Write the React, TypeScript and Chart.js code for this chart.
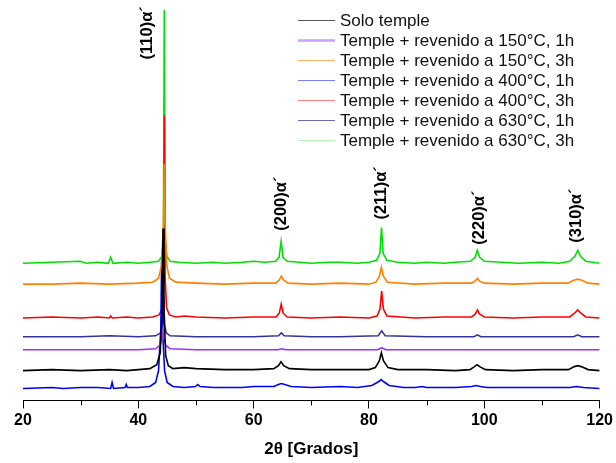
import React, { useEffect, useRef } from "react";
import { Chart, registerables } from "chart.js";

Chart.register(...registerables);

// ---- Data (2θ, intensity above each trace's own baseline) ----
const seriesNames = [
  "Solo temple",
  "Temple + revenido a 150°C, 1h",
  "Temple + revenido a 150°C, 3h",
  "Temple + revenido a 400°C, 1h",
  "Temple + revenido a 400°C, 3h",
  "Temple + revenido a 630°C, 1h",
  "Temple + revenido a 630°C, 3h",
];

// vertical offsets used to stack the patterns
const offsets = [30, 51, 117, 12, 83, 64, 138];

const soloTemple: number[][] = [
  [20, 0], [25, 1], [30, 0], [35, 1], [38, 0], [40, 1], [42, 2], [43.2, 6], [43.8, 18], [44.1, 60],
  [44.28, 143], [44.45, 60], [44.75, 15], [45.2, 5], [46, 2], [48, 3], [50, 2], [55, 1], [60, 1],
  [63.5, 2], [64.3, 5], [64.75, 9], [65.2, 5], [66.2, 2], [70, 1], [75, 1], [80, 1], [81.1, 3],
  [81.8, 10], [82.15, 18], [82.5, 10], [83.3, 3], [85, 1], [90, 1], [95, 0], [97.5, 1], [98.3, 4],
  [98.75, 6], [99.2, 4], [100.2, 1], [105, 0], [110, 1], [114.6, 1], [115.6, 4], [116.2, 5],
  [116.8, 4], [118, 1], [120, 0],
];

const rev150_1h: number[][] = [
  [20, 0], [30, 0], [40, 0], [43, 1], [43.8, 5], [44.1, 13], [44.25, 20], [44.4, 12], [44.8, 4],
  [45.5, 1], [50, 0], [60, 0], [64.2, 0], [64.9, 1], [65.6, 0], [75, 0], [81.5, 0], [82.2, 2],
  [82.9, 0], [90, 0], [100, 0], [110, 0], [120, 0],
];

const rev150_3h: number[][] = [
  [20, 0], [25, 0], [30, 1], [35, 0], [40, 1], [42.5, 2], [43.5, 6], [44.0, 18], [44.35, 60],
  [44.5, 121], [44.65, 60], [44.95, 18], [45.4, 6], [46.5, 2], [50, 1], [55, 0], [60, 1], [63.8, 1],
  [64.4, 4], [64.8, 8], [65.2, 4], [66, 1], [70, 0], [75, 1], [80, 0], [81.2, 2], [81.8, 8],
  [82.15, 17], [82.5, 8], [83.2, 2], [88, 0], [93, 1], [97.8, 1], [98.4, 3], [98.8, 6], [99.2, 3],
  [100, 1], [105, 0], [110, 1], [114.5, 1], [115.5, 4], [116.2, 5], [116.9, 4], [118, 1], [120, 0],
];

const rev400_1h: number[][] = [
  [20, 0], [25, 1], [27, 0], [30, 1], [33, 1], [35.2, 0], [35.45, 6], [35.7, 0], [37.7, 1],
  [37.9, 4], [38.1, 1], [40, 1], [42, 2], [43.0, 6], [43.5, 18], [43.9, 60], [44.05, 131],
  [44.2, 60], [44.55, 18], [45.0, 6], [46, 2], [48, 1], [49.9, 2], [50.3, 4], [50.7, 2], [53, 1],
  [58, 1], [60, 2], [63.5, 2], [64.3, 4], [64.8, 5], [65.4, 4], [66.5, 2], [70, 1], [75, 2],
  [78, 1], [80.5, 3], [81.7, 7], [82.1, 9], [82.5, 7], [83.5, 3], [86, 1], [88, 1], [89.2, 2],
  [90, 1], [95, 1], [97.8, 2], [98.6, 3], [99.3, 2], [100.5, 1], [105, 1], [110, 1], [114.8, 1],
  [116.0, 2], [117.2, 1], [120, 0],
];

const rev400_3h: number[][] = [
  [20, 0], [25, 1], [30, 0], [33, 1], [35.0, 0], [35.2, 2], [35.5, 0], [38, 1], [40, 0], [42.5, 1],
  [43.6, 3], [44.15, 10], [44.4, 40], [44.52, 204], [44.65, 40], [44.9, 10], [45.4, 3], [46.5, 1],
  [48, 2], [50, 1], [55, 0], [60, 1], [63.9, 1], [64.45, 5], [64.78, 14], [65.1, 5], [65.8, 1],
  [70, 0], [75, 1], [80, 0], [81.4, 2], [81.9, 9], [82.2, 27], [82.5, 9], [83.1, 2], [88, 0],
  [93, 1], [97.8, 1], [98.45, 4], [98.8, 8], [99.15, 4], [100, 1], [105, 0], [110, 1], [114.8, 1],
  [115.7, 5], [116.2, 8], [116.7, 5], [117.6, 1], [120, 0],
];

const rev630_1h: number[][] = [
  [20, 0], [30, 0], [35, 1], [40, 0], [43, 1], [43.9, 4], [44.25, 12], [44.4, 41], [44.55, 12],
  [44.85, 4], [45.5, 1], [50, 0], [55, 0], [60, 0], [64.3, 1], [64.8, 4], [65.3, 1], [70, 0],
  [75, 0], [81.6, 1], [82.2, 6], [82.8, 1], [90, 0], [98.2, 0], [98.8, 2], [99.4, 0], [105, 0],
  [110, 0], [115.5, 0], [116.2, 2], [116.9, 0], [120, 0],
];

const rev630_3h: number[][] = [
  [20, 0], [25, 1], [29.9, 2], [31, 0], [33, 1], [34.8, 0], [35.2, 6], [35.6, 0], [38, 1], [40, 0],
  [42, 1], [43.5, 2], [44.05, 7], [44.35, 22], [44.5, 255], [44.65, 22], [44.95, 7], [45.5, 2],
  [47, 1], [50, 0], [53, 1], [55, 0], [58, 1], [60, 2], [62, 1], [63.8, 2], [64.4, 6], [64.76, 22],
  [65.1, 6], [65.8, 2], [68, 1], [70, 0], [73, 1], [75, 1], [78, 0], [80, 1], [81.3, 3], [81.9, 10],
  [82.17, 36], [82.45, 10], [83.1, 3], [85, 1], [88, 0], [90, 1], [93, 0], [95, 1], [97.6, 2],
  [98.4, 6], [98.78, 13], [99.2, 6], [100, 2], [103, 1], [106, 0], [110, 1], [113, 0], [114.8, 2],
  [115.7, 7], [116.2, 13], [116.7, 7], [117.6, 2], [120, 0],
];

const seriesData = [soloTemple, rev150_1h, rev150_3h, rev400_1h, rev400_3h, rev630_1h, rev630_3h];

const peakLabels = ["(110)α´", "(200)α´", "(211)α´", "(220)α´", "(310)α´"];
const peakLabelTheta = [41.6, 64.8, 82.2, 99.1, 116.0];
const peakLabelLevel = [370, 198, 209, 184, 186];

const xTickValues = [20, 40, 60, 80, 100, 120];

// ---- Styles ----
const colors = ["#000000", "#9b30ff", "#ff8000", "#0000ff", "#ff0000", "#33339a", "#00e000"];
const legendColors = ["#555555", "#c9a0ff", "#ffb060", "#7a7aff", "#ff8080", "#6a6ab0", "#b8f0b8"];
const legendWidths = [1, 2.5, 1.2, 1.2, 1.2, 1.2, 1.2];
const FONT = '"Liberation Sans", Arial, Helvetica, sans-serif';

const overlayPlugin = {
  id: "overlay",
  afterDraw(chart: any) {
    const ctx = chart.ctx;
    const xs = chart.scales.x;
    const ys = chart.scales.y;
    ctx.save();
    // minor ticks
    ctx.strokeStyle = "#000";
    ctx.lineWidth = 1;
    const axisY = chart.chartArea.bottom;
    for (let v = 30; v < 120; v += 20) {
      const px = Math.round(xs.getPixelForValue(v)) + 0.5;
      ctx.beginPath();
      ctx.moveTo(px, axisY);
      ctx.lineTo(px, axisY + 5);
      ctx.stroke();
    }
    // peak labels
    ctx.fillStyle = "#000";
    ctx.font = `bold 16.5px ${FONT}`;
    ctx.textAlign = "center";
    ctx.textBaseline = "middle";
    peakLabels.forEach((t, i) => {
      const px = xs.getPixelForValue(peakLabelTheta[i]);
      const py = ys.getPixelForValue(peakLabelLevel[i]);
      ctx.save();
      ctx.translate(px, py);
      ctx.rotate(-Math.PI / 2);
      ctx.fillText(t, 0, 0);
      ctx.restore();
    });
    // legend
    ctx.font = `17px ${FONT}`;
    ctx.textAlign = "left";
    ctx.textBaseline = "middle";
    seriesNames.forEach((name, i) => {
      const y = 20 + i * 20;
      ctx.strokeStyle = legendColors[i];
      ctx.lineWidth = legendWidths[i];
      ctx.beginPath();
      ctx.moveTo(298, y + 0.5);
      ctx.lineTo(335, y + 0.5);
      ctx.stroke();
      ctx.fillStyle = "#111";
      ctx.fillText(name, 340, y + 1);
    });
    ctx.restore();
  },
};

export default function App() {
  const ref = useRef<HTMLCanvasElement>(null);
  useEffect(() => {
    if (!ref.current) return;
    const datasets = seriesData.map((pts, i) => ({
      label: seriesNames[i],
      data: pts.map(([x, y]) => ({ x, y: y + offsets[i] })),
      borderColor: colors[i],
      backgroundColor: colors[i],
      borderWidth: 1.6,
      pointRadius: 0,
      tension: 0,
      fill: false,
    }));
    const chart = new Chart(ref.current, {
      type: "line",
      data: { datasets },
      plugins: [overlayPlugin],
      options: {
        responsive: false,
        animation: false,
        layout: { padding: { left: 23, right: 15, top: 3, bottom: 3 } },
        plugins: { legend: { display: false }, tooltip: { enabled: false } },
        scales: {
          x: {
            type: "linear",
            min: 20,
            max: 120,
            afterBuildTicks: (scale: any) => {
              scale.ticks = xTickValues.map((v) => ({ value: v }));
            },
            ticks: {
              color: "#000",
              font: { family: FONT, size: 16, weight: "bold" },
              padding: 3,
              maxRotation: 0,
              autoSkip: false,
            },
            grid: { drawOnChartArea: false, drawTicks: true, tickLength: 8, color: "#000", tickColor: "#000" },
            border: { display: true, color: "#000", width: 1 },
            title: {
              display: true,
              text: "2θ [Grados]",
              color: "#000",
              font: { family: FONT, size: 17, weight: "bold" },
              padding: { top: 6, bottom: 0 },
            },
          },
          y: { display: false, min: 0, max: 400 },
        },
      },
    } as any);
    return () => chart.destroy();
  }, []);
  return (
    <div style={{ position: "absolute", left: 0, top: 0, width: 616, height: 463, background: "#fff" }}>
      <canvas ref={ref} width={616} height={463} />
    </div>
  );
}
